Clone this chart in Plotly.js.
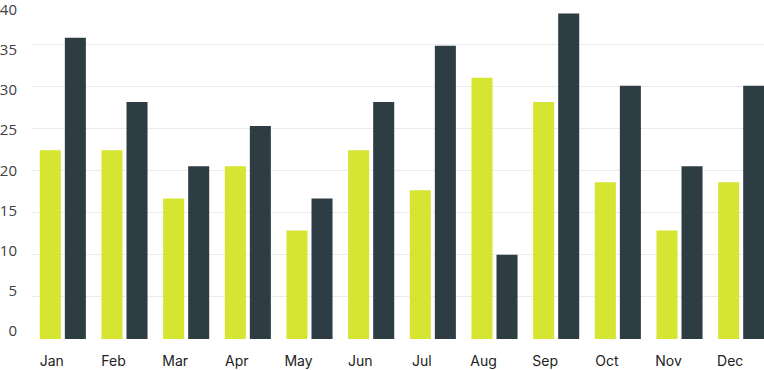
<!DOCTYPE html>
<html>
<head>
<meta charset="utf-8">
<script src="https://cdn.plot.ly/plotly-3.0.1.min.js"></script>
<style>
  html, body { margin: 0; padding: 0; background: #ffffff; }
  #chart { width: 764px; height: 370px; }
</style>
</head>
<body>
<div id="chart"></div>
<script>
// ---- data ----
const months = ["Jan", "Feb", "Mar", "Apr", "May", "Jun", "Jul", "Aug", "Sep", "Oct", "Nov", "Dec"];
const seriesA = [22, 22, 16, 20, 12, 22, 17, 31, 28, 18, 12, 18];   // lime bars
const seriesB = [36, 28, 20, 25, 16, 28, 35, 9, 39, 30, 20, 30];    // dark bars
const yTicks = [0, 5, 10, 15, 20, 25, 30, 35, 40];

// ---- styling / layout ----
const Y_MIN = -1.493;  // bars start slightly below the zero label, as in the reference
const Y_MAX = 40.435;
const GRID_BANDS = 8;  // the faint grid divides the plot height into 8 equal bands

const gridVals = [];
for (let i = 1; i <= GRID_BANDS; i++) {
  gridVals.push(Y_MIN + (i / GRID_BANDS) * (Y_MAX - Y_MIN));
}

function barTrace(vals, color, name) {
  return {
    type: "bar",
    name: name,
    x: months,
    y: vals.map(v => v - Y_MIN),
    base: Y_MIN,
    customdata: vals,
    hovertemplate: "%{x}: %{customdata}<extra></extra>",
    marker: { color: color, line: { width: 0 } }
  };
}

const data = [
  barTrace(seriesA, "#d5e531", "Series A"),
  barTrace(seriesB, "#2e3c44", "Series B")
];

const layout = {
  width: 764,
  height: 370,
  margin: { l: 32, r: 0, t: 2, b: 31 },
  paper_bgcolor: "#ffffff",
  plot_bgcolor: "#ffffff",
  showlegend: false,
  barmode: "group",
  bargap: 0.188,
  bargroupgap: 0.16,
  xaxis: {
    type: "category",
    categoryorder: "array",
    categoryarray: months,
    range: [-0.5, 11.37],
    showgrid: false,
    zeroline: false,
    showline: false,
    ticks: "",
    ticklabelshift: -11,
    ticklabelstandoff: 12,
    tickfont: { family: "Inter, 'Noto Sans', sans-serif", size: 14, color: "#222222" }
  },
  yaxis: {
    range: [Y_MIN, Y_MAX],
    tickmode: "array",
    tickvals: yTicks,
    ticktext: yTicks.map(String),
    showgrid: false,
    zeroline: false,
    showline: false,
    ticks: "",
    ticklabelshift: 4,
    ticklabelstandoff: 14,
    ticklabeloverflow: "allow",
    tickfont: { family: "'Open Sans', 'Noto Sans', sans-serif", size: 15, color: "#404040" },
    minor: {
      tickmode: "array",
      tickvals: gridVals,
      ticks: "",
      showgrid: true,
      gridcolor: "#ebebeb",
      gridwidth: 1
    }
  }
};

Plotly.newPlot("chart", data, layout, { displayModeBar: false, staticPlot: true });
</script>
</body>
</html>
